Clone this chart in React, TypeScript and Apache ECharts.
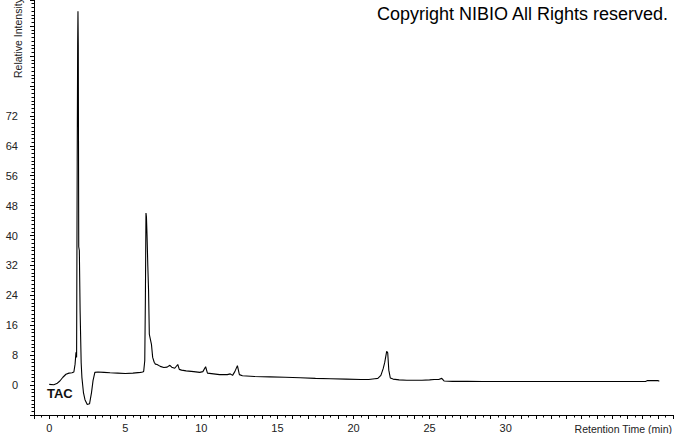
import React, { useEffect, useRef } from "react";
import * as echarts from "echarts";

// Retention time (min)
const times: number[] = [
  0.0, 0.3, 0.5, 0.7, 0.9, 1.1, 1.3, 1.5, 1.62, 1.7, 1.76, 1.8, 1.84, 1.87, 1.89, 1.91, 1.94, 1.98,
  2.03, 2.1, 2.15, 2.25, 2.35, 2.5, 2.65, 2.78, 2.88, 3.0, 3.2, 3.6, 4.0, 4.5, 5.0, 5.5, 6.0, 6.15,
  6.21, 6.28, 6.32, 6.36, 6.39, 6.43, 6.48, 6.53, 6.58, 6.66, 6.72, 6.8, 6.9, 6.98, 7.09, 7.3, 7.53,
  7.75, 7.93, 8.05, 8.25, 8.45, 8.55, 8.7, 9.0, 9.5, 9.9, 10.1, 10.28, 10.4, 10.8, 11.2, 11.7, 11.9,
  12.05, 12.2, 12.37, 12.5, 12.7, 13.5, 14.5, 15.5, 16.5, 17.5, 18.5, 19.5, 20.5, 21.0, 21.4, 21.6,
  21.8, 21.95, 22.05, 22.18, 22.25, 22.32, 22.42, 22.6, 23.0, 23.5, 24.0, 24.5, 25.0, 25.3, 25.6,
  25.8, 25.95, 26.5, 27.5, 28.5, 29.5, 30.5, 32.0, 34.0, 36.0, 38.0, 39.2, 39.3, 40.0, 40.1,
];

// Relative intensity
const intensity: number[] = [
  0.2, 0.1, 0.4, 1.1, 2.1, 2.9, 3.2, 3.3, 3.5, 5.6, 8.8, 7.4, 60, 91, 100, 91, 37, 36,
  20, 6, 2, -2, -3.9, -5.2, -5.0, -2, 1.2, 3.4, 3.5, 3.4, 3.3, 3.2, 3.1, 3.2, 3.4, 3.5,
  3.7, 6.5, 22.6, 46, 45, 40, 32, 25.3, 13.6, 12, 10.9, 7.4, 6.1, 5.6, 5.5, 5.0, 4.7,
  4.8, 5.3, 4.8, 4.5, 5.5, 4.2, 4.0, 3.8, 3.6, 3.4, 3.6, 4.9, 3.2, 3.0, 2.8, 2.8, 3.0,
  2.6, 3.6, 5.2, 2.8, 2.5, 2.3, 2.2, 2.1, 1.95, 1.8, 1.7, 1.6, 1.5, 1.5, 1.7, 1.8,
  2.6, 4.4, 6.0, 9.0, 8.6, 4.0, 1.9, 1.6, 1.4, 1.3, 1.3, 1.3, 1.4, 1.5, 1.5,
  1.8, 1.1, 1.0, 1.0, 0.95, 0.95, 0.95, 0.95, 0.95, 0.95, 0.95, 0.95, 1.2, 1.2, 1.0,
];

const xLabelValues: number[] = [0, 5, 10, 15, 20, 25, 30];
const yLabelValues: number[] = [0, 8, 16, 24, 32, 40, 48, 56, 64, 72];

const FONT = "Liberation Sans, Arial, sans-serif";

export default function App() {
  const ref = useRef<HTMLDivElement>(null);

  useEffect(() => {
    if (!ref.current) return;
    const chart = echarts.init(ref.current, undefined, { renderer: "svg" });
    const data = times.map((t, i) => [t, intensity[i]]);
    chart.setOption({
      animation: false,
      backgroundColor: "#ffffff",
      grid: { left: 34, right: 1, top: 0, bottom: 19, containLabel: false },
      xAxis: {
        type: "value",
        min: -1,
        max: 41,
        interval: 1,
        axisLine: { show: true, onZero: false, lineStyle: { color: "#000", width: 1 } },
        axisTick: { show: true, length: 4, lineStyle: { color: "#000" } },
        minorTick: { show: true, splitNumber: 2, length: 2.5, lineStyle: { color: "#000" } },
        splitLine: { show: false },
        axisLabel: {
          show: true,
          margin: 7,
          color: "#222",
          fontSize: 11,
          fontFamily: FONT,
          showMinLabel: false,
          showMaxLabel: false,
          formatter: (v: number) => (xLabelValues.includes(Math.round(v * 100) / 100) ? String(v) : ""),
        },
      },
      yAxis: {
        type: "value",
        min: -8,
        max: 103,
        interval: 8,
        axisLine: { show: true, onZero: false, lineStyle: { color: "#000", width: 1 } },
        axisTick: { show: true, length: 4, lineStyle: { color: "#000" } },
        minorTick: { show: true, splitNumber: 8, length: 2.5, lineStyle: { color: "#000" } },
        splitLine: { show: false },
        axisLabel: {
          show: true,
          margin: 16,
          color: "#222",
          fontSize: 11,
          fontFamily: FONT,
          showMinLabel: false,
          showMaxLabel: false,
          formatter: (v: number) => (yLabelValues.includes(v) ? String(v) : ""),
        },
      },
      series: [
        {
          type: "line",
          data,
          showSymbol: false,
          symbol: "none",
          lineStyle: { color: "#000", width: 1.1 },
          silent: true,
        },
      ],
      graphic: [
        {
          type: "text",
          x: 377,
          y: 14,
          style: {
            text: "Copyright NIBIO All Rights reserved.",
            font: `18px ${FONT}`,
            fill: "#000",
            textAlign: "left",
            textVerticalAlign: "middle",
          },
        },
        {
          type: "text",
          x: 47,
          y: 393,
          style: {
            text: "TAC",
            font: `bold 13px ${FONT}`,
            fill: "#111",
            textAlign: "left",
            textVerticalAlign: "middle",
          },
        },
        {
          type: "text",
          x: 672,
          y: 429,
          style: {
            text: "Retention Time (min)",
            font: `10.5px ${FONT}`,
            fill: "#222",
            textAlign: "right",
            textVerticalAlign: "middle",
          },
        },
        {
          type: "text",
          x: 17.5,
          y: 78,
          rotation: Math.PI / 2,
          style: {
            text: "Relative Intensity",
            font: `10.5px ${FONT}`,
            fill: "#222",
            textAlign: "left",
            textVerticalAlign: "middle",
          },
        },
      ],
    });
    return () => chart.dispose();
  }, []);

  return (
    <div
      ref={ref}
      style={{ position: "fixed", left: 0, top: 0, width: 674, height: 434, background: "#fff" }}
    />
  );
}
